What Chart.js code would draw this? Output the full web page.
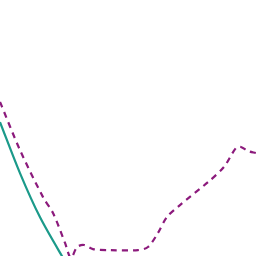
<!DOCTYPE html>
<html>
<head>
<meta charset="utf-8">
<script src="https://cdn.jsdelivr.net/npm/chart.js@4/dist/chart.umd.min.js"></script>
<style>
    html, body { margin: 0; padding: 0; background: #fff; }
    #wrap { width: 256px; height: 256px; }
</style>
</head>
<body>
<div id="wrap"><canvas id="line-chart"></canvas></div>
<script>
    // x positions and values
    var solidX = [0, 7.8, 15.6, 24.2, 28];
    var solidY = [52.3, 32.4, 15.2, 0, -6];

    var dashedX = [0, 7.8, 16.8, 20.7, 25.4, 27.7, 30.1, 32.8, 36.3, 43, 53.9, 57.8, 61.7, 65.2, 70.3, 81.3, 87.5, 92.2, 94.1, 96.9, 100];
    var dashedY = [60.2, 41.4, 23.0, 16.8, 5.1, -0.8, 3.5, 4.3, 2.7, 2.3, 2.3, 3.5, 9.0, 15.2, 19.9, 28.9, 34.8, 42.2, 42.6, 41.0, 40.2];

    function toPoints(xs, ys) {
        return xs.map(function (x, i) { return {x: x, y: ys[i]}; });
    }

    var ctx = document.getElementById("line-chart").getContext("2d");
    var myChart = new Chart(ctx, {
        type: "line",
        data: {
            datasets: [{
                label: "Solid",
                data: toPoints(solidX, solidY),
                borderColor: "#1b9a8a",
                borderWidth: 2.2,
                pointRadius: 0,
                tension: 0.3,
                fill: false
            },
            {
                label: "Dashed",
                data: toPoints(dashedX, dashedY),
                borderColor: "#8c1a7c",
                borderWidth: 2.2,
                borderDash: [6, 5],
                pointRadius: 0,
                tension: 0.3,
                fill: false
            }]
        },
        options: {
            responsive: true,
            maintainAspectRatio: false,
            animation: false,
            layout: { padding: 0 },
            plugins: { legend: { display: false }, tooltip: { enabled: false } },
            scales: {
                x: { type: "linear", min: 0, max: 100, display: false },
                y: { min: 0, max: 100, display: false }
            }
        }
    });
</script>
</body>
</html>
